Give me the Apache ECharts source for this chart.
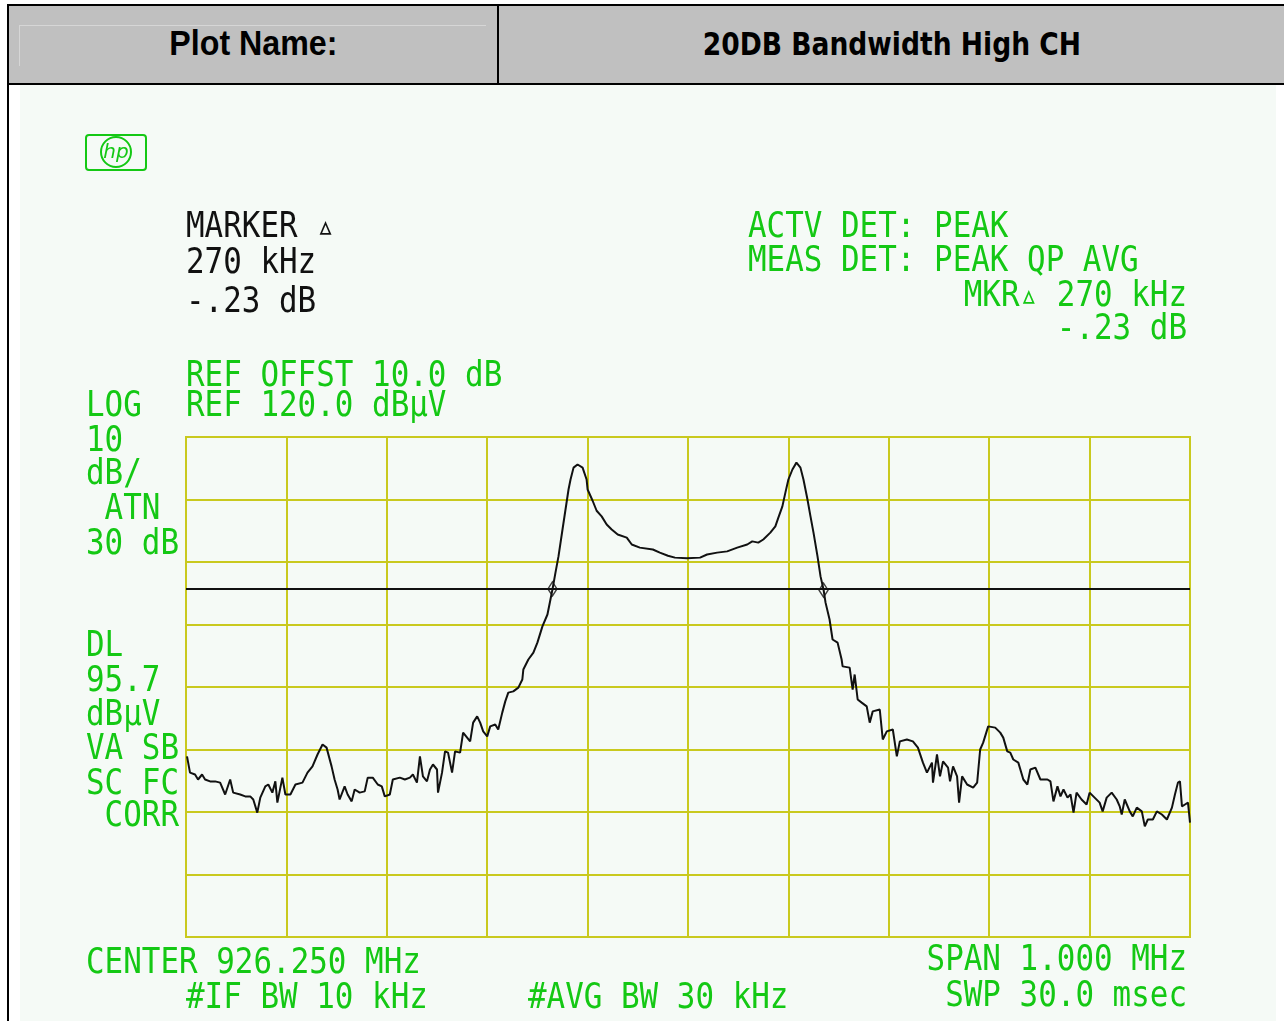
<!DOCTYPE html>
<html>
<head>
    <meta charset="utf-8">
    <title>20DB Bandwidth High CH</title>
    <script src="https://cdn.jsdelivr.net/npm/echarts@6/dist/echarts.min.js"></script>
    <style>
        body { margin: 0; background: #fff; }
        #page { position: relative; width: 1284px; height: 1021px; overflow: hidden; }
        #chart { position: absolute; left: 0; top: 0; width: 1284px; height: 1021px; }
        #head { position: absolute; left: 7px; top: 4px; width: 1290px; height: 77px; background: #c0c0c0;
                border-top: 2px solid #000; border-bottom: 2px solid #000; border-left: 2px solid #000; }
        #divider { position: absolute; left: 488px; top: 0; width: 2px; height: 77px; background: #000; }
        #inset { position: absolute; left: 10px; top: 19px; width: 466px; height: 40px;
                 border-top: 1px solid #d6d6d6; border-left: 1px solid #d6d6d6; }
        .cell { position: absolute; top: 0; height: 77px; line-height: 77px; text-align: center; color: #000; }
        .cell span { display: inline-block; position: relative; top: 5px; transform-origin: center center; }
        #c1 { left: 0; width: 488px; }
        #c1 span { font: bold 35px "Liberation Sans", Arial, sans-serif; transform: scaleX(0.92); }
        #c2 { left: 490px; width: 785px; }
        #c2 span { font: bold 32px "DejaVu Sans", sans-serif; transform: scaleX(0.83); }
        #leftline { position: absolute; left: 7px; top: 83px; width: 2px; height: 940px; background: #000; }
    </style>
</head>
<body>
<div id="page">
    <div id="chart"></div>
    <div id="head">
        <div id="inset"></div>
        <div id="c1" class="cell"><span>Plot Name:</span></div>
        <div id="divider"></div>
        <div id="c2" class="cell"><span>20DB Bandwidth High CH</span></div>
    </div>
    <div id="leftline"></div>
</div>
<script type="text/javascript">
    // trace: offset from centre (kHz), level (dBuV)
    var centerMHz = 926.25;
    var freqOffsetKHz = [
        -499, -496, -491, -488, -484, -481, -476, -471, -466, -461,
        -456, -453, -446, -441, -436, -433, -429, -426, -421, -418,
        -414, -411, -409, -404, -401, -396, -391, -384, -379, -374,
        -369, -364, -360, -355, -352, -349, -347, -342, -339, -335,
        -332, -327, -322, -319, -314, -309, -305, -302, -297, -294,
        -287, -282, -277, -274, -270, -267, -264, -260, -257, -254,
        -250, -249, -245, -242, -239, -235, -232, -227, -224, -220,
        -217, -214, -210, -207, -204, -200, -197, -192, -189, -185,
        -182, -179, -174, -169, -165,
        -164, -159, -154, -150, -145, -140, -137, -135, -132, -129,
        -125, -122, -119, -117, -114, -110, -105, -101, -100, -95,
        -91, -86, -81, -76, -70, -61, -56, -48, -35, -28,
        -20, -13, -1, 12, 19, 29, 39, 49, 59, 64,
        70, 75, 82, 87, 90, 94, 97, 100, 104, 108,
        112, 115, 119, 122, 125, 129, 132, 135, 137, 141,
        144, 149, 153, 154, 161, 164, 166, 169, 173, 178,
        181, 184, 191, 194, 198, 204, 208, 211, 218, 224,
        229, 234, 238, 243, 244, 248, 251, 254, 259, 261,
        264, 268, 270, 273, 278, 284, 288, 291, 294, 299,
        306, 311, 314, 318, 321, 324, 329, 334, 338, 341,
        346, 351, 358, 361, 364, 368, 371, 374, 378, 381,
        384, 387, 392, 397, 400, 405, 410, 413, 417, 422,
        427, 430, 432, 435, 440, 443, 447, 452, 455, 458,
        463, 467, 472, 477, 482, 485, 488, 490, 492, 495,
        498, 500
    ];
    var levelDbuv = [
        68.9, 66.3, 66.0, 65.2, 66.0, 65.2, 64.9, 64.9, 64.7, 62.8,
        65.2, 63.1, 62.8, 62.5, 62.5, 62.0, 59.9, 62.3, 64.1, 64.4,
        63.1, 64.9, 61.5, 65.5, 62.8, 62.8, 64.4, 64.7, 66.3, 67.3,
        69.2, 70.8, 70.3, 67.3, 65.2, 63.6, 62.0, 64.1, 62.8, 61.7,
        63.6, 63.1, 63.3, 65.5, 65.5, 64.4, 64.1, 62.5, 62.8, 65.2,
        65.5, 65.2, 65.5, 66.0, 64.7, 68.9, 65.7, 64.9, 66.8, 67.6,
        66.8, 63.1, 66.3, 69.7, 69.5, 66.3, 69.7, 69.5, 72.7, 71.9,
        71.3, 74.3, 75.3, 74.3, 72.9, 72.1, 73.7, 74.0, 73.2, 75.9,
        77.7, 79.1, 79.3, 79.9, 81.2,
        82.8, 84.4, 85.5, 87.1, 89.7, 91.6, 94.0, 95.6, 98.3, 100.9,
        105.2, 108.4, 111.6, 113.2, 115.1, 115.6, 115.1, 113.2, 111.6, 109.8,
        108.2, 107.3, 106.0, 105.2, 104.4, 103.9, 102.8, 102.3, 102.0, 101.5,
        101.0, 100.7, 100.6, 100.7, 101.2, 101.5, 101.7, 102.3, 102.8, 103.3,
        103.1, 103.6, 104.7, 105.7, 107.1, 108.9, 111.1, 113.2, 114.8, 115.9,
        115.1, 113.2, 110.0, 107.3, 104.7, 100.9, 97.7, 95.6, 93.5, 90.8,
        87.6, 87.1, 84.4, 83.3, 83.1, 79.6, 82.0, 78.0, 77.5, 76.9,
        74.3, 76.1, 76.4, 71.6, 72.9, 73.2, 68.9, 71.3, 71.6, 71.3,
        70.3, 67.9, 66.3, 67.9, 64.7, 69.2, 65.7, 68.1, 67.1, 64.9,
        67.3, 65.7, 61.5, 65.7, 64.4, 63.9, 64.7, 70.0, 71.1, 73.7,
        73.5, 72.7, 71.9, 69.7, 69.5, 68.4, 67.9, 65.2, 64.4, 66.8,
        67.1, 65.2, 65.2, 64.9, 61.7, 64.1, 62.5, 63.6, 62.3, 62.8,
        59.9, 63.1, 62.0, 61.2, 63.1, 62.3, 61.5, 60.1, 62.3, 63.1,
        62.0, 60.9, 59.6, 62.0, 60.1, 59.3, 60.7, 60.1, 57.7, 58.8,
        58.8, 60.1, 59.6, 58.8, 60.7, 62.8, 64.7, 64.9, 60.9, 61.2,
        61.5, 58.3
    ];
    // delta marker pair (20 dB points) and display line
    var markerOffsetKHz = [-135, 135];
    var markerLevel = [95.7, 95.5];
    var displayLine = 95.7;
    var refLevel = 120, dbPerDiv = 10, vDivs = 8;
    var spanKHz = 1000, hDivs = 10;

    var green = '#14c814';
    var ink = '#111';
    var gridColor = '#c9c91e';

    function hpText(x, y, s, color, align) {
        return {
            type: 'text', x: x, y: y + 4, scaleX: 1.03, scaleY: 1.19, silent: true,
            style: {
                text: s, fill: color, font: '30px "DejaVu Sans Mono", monospace',
                align: align || 'left', verticalAlign: 'middle'
            }
        };
    }

    var trace = freqOffsetKHz.map(function (f, i) { return [f, levelDbuv[i]]; });
    var markers = markerOffsetKHz.map(function (f, i) { return [f, markerLevel[i]]; });

    var myChart = echarts.init(document.getElementById('chart'));
    myChart.setOption({
        animation: false,
        backgroundColor: 'transparent',
        grid: {
            left: 186, top: 437, width: 1004, height: 500,
            show: true, borderColor: gridColor, borderWidth: 2, backgroundColor: 'transparent'
        },
        xAxis: {
            type: 'value', min: -spanKHz / 2, max: spanKHz / 2, interval: spanKHz / hDivs,
            axisLabel: { show: false }, axisTick: { show: false }, axisLine: { show: false },
            splitLine: { show: true, lineStyle: { color: gridColor, width: 2 } }
        },
        yAxis: {
            type: 'value', min: refLevel - dbPerDiv * vDivs, max: refLevel, interval: dbPerDiv,
            axisLabel: { show: false }, axisTick: { show: false }, axisLine: { show: false },
            splitLine: { show: true, lineStyle: { color: gridColor, width: 2 } }
        },
        series: [{
            type: 'line',
            data: trace,
            symbol: 'none',
            lineStyle: { color: ink, width: 2 },
            z: 3,
            markLine: {
                silent: true, symbol: 'none', label: { show: false },
                lineStyle: { color: ink, width: 2, type: 'solid' },
                data: [{ yAxis: displayLine }]
            }
        }, {
            type: 'scatter',
            data: markers,
            symbol: 'diamond',
            symbolSize: [9, 14],
            itemStyle: { color: 'rgba(0,0,0,0)', borderColor: ink, borderWidth: 1.5 },
            z: 4
        }],
        graphic: [
            { type: 'rect', shape: { x: 20, y: 84, width: 1256, height: 937 }, style: { fill: '#f5faf6' }, z: -10, silent: true },
            // hp logo
            { type: 'rect', shape: { x: 86, y: 135, width: 60, height: 35, r: 3 }, style: { fill: 'none', stroke: green, lineWidth: 2 }, silent: true },
            { type: 'circle', shape: { cx: 116, cy: 152, r: 15 }, style: { fill: 'none', stroke: green, lineWidth: 2 }, silent: true },
            { type: 'text', x: 116, y: 153, silent: true, style: { text: 'hp', fill: green, font: 'italic 20px "DejaVu Sans"', align: 'center', verticalAlign: 'middle' } },

            hpText(186, 224, 'MARKER \u25B5', ink),
            hpText(186, 260, '270 kHz', ink),
            hpText(186, 299, '-.23 dB', ink),

            hpText(748, 224, 'ACTV DET: PEAK', green),
            hpText(748, 258, 'MEAS DET: PEAK QP AVG', green),
            hpText(1187, 293, 'MKR\u25B5 270 kHz', green, 'right'),
            hpText(1187, 326, '-.23 dB', green, 'right'),

            hpText(186, 373, 'REF OFFST 10.0 dB', green),
            hpText(86, 403, 'LOG', green),
            hpText(186, 403, 'REF 120.0 dB\u00B5V', green),
            hpText(86, 438, '10', green),
            hpText(86, 471, 'dB/', green),
            hpText(86, 506, ' ATN', green),
            hpText(86, 541, '30 dB', green),
            hpText(86, 643, 'DL', green),
            hpText(86, 678, '95.7', green),
            hpText(86, 712, 'dB\u00B5V', green),
            hpText(86, 746, 'VA SB', green),
            hpText(86, 781, 'SC FC', green),
            hpText(86, 813, ' CORR', green),

            hpText(86, 960, 'CENTER 926.250 MHz', green),
            hpText(186, 995, '#IF BW 10 kHz', green),
            hpText(528, 995, '#AVG BW 30 kHz', green),
            hpText(1187, 957, 'SPAN 1.000 MHz', green, 'right'),
            hpText(1187, 993, 'SWP 30.0 msec', green, 'right')
        ]
    });
</script>
</body>
</html>
